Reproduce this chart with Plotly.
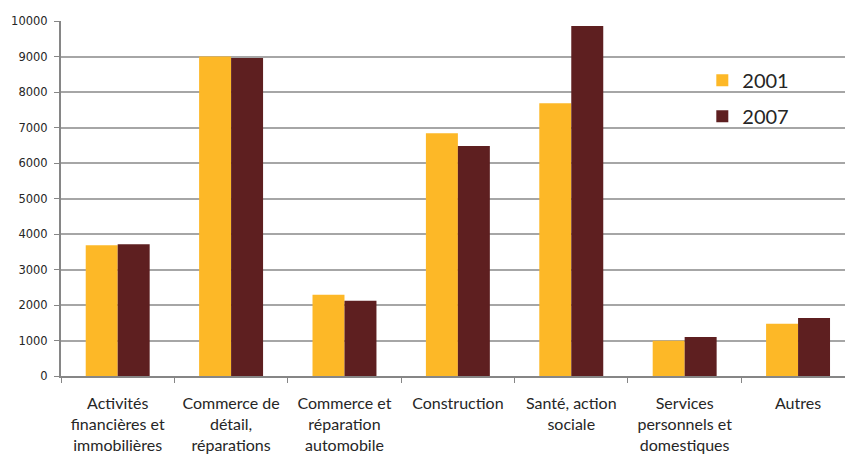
import plotly.graph_objects as go

categories = [
    "Activités<br>financières et<br>immobilières",
    "Commerce de<br>détail,<br>réparations",
    "Commerce et<br>réparation<br>automobile",
    "Construction",
    "Santé, action<br>sociale",
    "Services<br>personnels et<br>domestiques",
    "Autres",
]
values_2001 = [3680, 9000, 2290, 6840, 7680, 990, 1475]
values_2007 = [3710, 8960, 2120, 6480, 9860, 1100, 1635]
y_ticks = [0, 1000, 2000, 3000, 4000, 5000, 6000, 7000, 8000, 9000, 10000]
y_tick_labels = [str(v) for v in y_ticks]

fig = go.Figure()
fig.add_trace(go.Bar(name="2001", x=categories, y=values_2001,
                     marker=dict(color="#FDB827", line=dict(width=0)), legendgroup="a"))
fig.add_trace(go.Bar(name="2007", x=categories, y=values_2007,
                     marker=dict(color="#5E1F20", line=dict(width=0)), legendgroup="b"))

fig.update_layout(
    width=845, height=455,
    margin=dict(l=61, r=0, t=21, b=79, autoexpand=False),
    plot_bgcolor="white", paper_bgcolor="white",
    barmode="group", bargap=0.436, bargroupgap=0,
    font=dict(family="Lato", color="#262626"),
    showlegend=True,
    legend=dict(x=0.818, y=0.888, xanchor="left", yanchor="top",
                font=dict(size=20, family="Lato", color="#262626"),
                tracegroupgap=7, bgcolor="rgba(0,0,0,0)", itemwidth=30),
)
fig.update_xaxes(
    type="category", range=[-0.5, 6.414], automargin=False,
    showline=True, linecolor="#868686", linewidth=2,
    ticks="outside", tickson="boundaries", ticklen=5, tickcolor="#868686", tickwidth=1,
    tickfont=dict(size=16, family="Lato", color="#262626"),
    ticklabelstandoff=12,
    showgrid=False,
)
fig.update_yaxes(
    range=[0, 10000], tickvals=y_ticks, ticktext=y_tick_labels, automargin=False,
    showline=True, linecolor="#868686", linewidth=2,
    ticks="outside", ticklen=5, tickcolor="#868686",
    gridcolor="#A6A6A6", gridwidth=1.5,
    tickfont=dict(size=11.5, family="DejaVu Sans", color="#262626"),
    ticklabelstandoff=4,
    zeroline=False,
)

fig.write_html("out.html", config={"displayModeBar": False},
               post_script="document.body.style.margin='0px';document.body.style.overflow='hidden';")
